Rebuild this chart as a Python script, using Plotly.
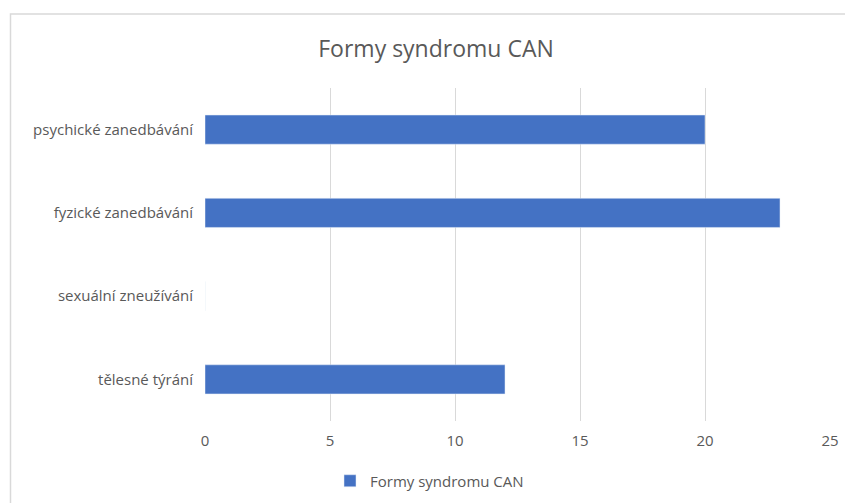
import plotly.graph_objects as go

categories = ["tělesné týrání", "sexuální zneužívání", "fyzické zanedbávání", "psychické zanedbávání"]
values = [12, 0, 23, 20]
series_name = "Formy syndromu CAN"
x_ticks = [0, 5, 10, 15, 20, 25]

# the page body adds an 8px offset, so the figure is a little smaller than the window
W, H = 845, 495
L, R, T, B = 197, 23, 80, 82
pw = W - L - R
ph = H - T - B


def px_x(p):
    return (p - L) / pw


def px_y(p):
    return 1 - (p - T) / ph


fig = go.Figure()
fig.add_trace(go.Bar(
    y=categories, x=values, orientation="h", name=series_name,
    marker=dict(color="#4472C4"),
))

# outer chart border (light gray), running off the right/bottom edges
fig.add_shape(type="rect", xref="paper", yref="paper",
              x0=px_x(2.5), x1=px_x(870), y0=px_y(520), y1=px_y(6),
              line=dict(color="#D9D9D9", width=1.5), fillcolor="rgba(0,0,0,0)")

fig.update_layout(
    width=W, height=H,
    margin=dict(l=L, r=R, t=T, b=B, autoexpand=False),
    paper_bgcolor="white", plot_bgcolor="white",
    font=dict(family="Open Sans", color="#595959", size=15),
    title=dict(text="Formy syndromu CAN", x=px_x(428), xref="paper", xanchor="center",
               y=1 - 41 / H, yanchor="middle", font=dict(size=23, color="#595959")),
    bargap=0.65,
    showlegend=True,
    legend=dict(orientation="h", x=px_x(322), xanchor="left", xref="paper",
                y=px_y(473), yanchor="middle", yref="paper", itemwidth=30,
                font=dict(size=15, color="#595959")),
    xaxis=dict(range=[0, 25], tickvals=x_ticks, showgrid=True, gridcolor="#D9D9D9",
               gridwidth=1, zeroline=False, showline=False, ticks="",
               ticklabelstandoff=9, tickfont=dict(size=15), automargin=False),
    yaxis=dict(showgrid=False, zeroline=False, showline=False, ticks="",
               ticklabelstandoff=11, tickfont=dict(size=15), automargin=False),
)

fig.write_html("out.html")
